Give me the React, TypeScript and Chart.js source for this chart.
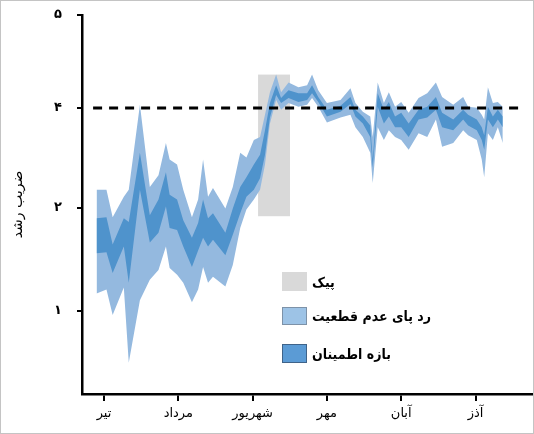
import React, { useEffect, useRef } from "react";
import { Chart, registerables } from "chart.js";

Chart.register(...registerables);

// x positions in days from the start of تیر
const days = [-3, 1, 3.5, 8, 10, 14.5, 18.5, 22, 25, 26.5, 29.5, 32, 35.5, 38, 40, 42, 44, 49, 52, 55, 57.5, 60.5, 63, 65, 67, 69.5, 71.5, 74.5, 78.5, 82, 84, 86.5, 90, 95.5, 99.5, 101.5, 104.5, 107.5, 108.5, 110.5, 113, 115, 117.5, 120, 123, 127, 130.5, 134, 136.5, 141, 145, 147, 150.5, 152.5, 153.5, 155, 157, 159, 161];
// uncertainty footprint (light band)
const outerHigh = [2.24, 2.24, 1.96, 2.17, 2.24, 3.11, 2.27, 2.39, 2.72, 2.55, 2.50, 2.24, 1.96, 2.14, 2.55, 2.17, 2.26, 2.05, 2.27, 2.62, 2.57, 2.75, 2.78, 3.01, 3.24, 3.42, 3.24, 3.34, 3.29, 3.31, 3.42, 3.26, 3.13, 3.16, 3.28, 3.13, 3.04, 2.99, 2.78, 3.34, 3.13, 3.24, 3.09, 3.14, 3.03, 3.18, 3.23, 3.34, 3.19, 3.11, 3.19, 3.09, 3.08, 3.01, 2.96, 3.29, 3.13, 3.14, 3.09];
const outerLow = [1.18, 1.22, 0.96, 1.24, 0.47, 1.11, 1.32, 1.42, 1.66, 1.44, 1.37, 1.29, 1.09, 1.22, 1.45, 1.29, 1.35, 1.25, 1.47, 1.85, 2.04, 2.14, 2.24, 2.50, 2.92, 3.16, 3.06, 3.13, 3.09, 3.11, 3.18, 3.09, 2.93, 2.98, 3.01, 2.88, 2.78, 2.62, 2.31, 2.88, 2.75, 2.85, 2.78, 2.75, 2.65, 2.82, 2.78, 2.96, 2.68, 2.72, 2.85, 2.80, 2.75, 2.55, 2.37, 2.82, 2.75, 2.88, 2.72];
// confidence interval (dark band)
const innerHigh = [1.95, 1.96, 1.68, 1.95, 1.91, 2.62, 1.98, 2.14, 2.42, 2.19, 2.14, 1.93, 1.75, 1.90, 2.14, 1.95, 2.00, 1.80, 2.05, 2.27, 2.37, 2.50, 2.60, 2.85, 3.13, 3.31, 3.18, 3.26, 3.23, 3.23, 3.31, 3.19, 3.06, 3.10, 3.19, 3.06, 2.99, 2.90, 2.55, 3.23, 3.06, 3.14, 2.99, 3.03, 2.92, 3.06, 3.09, 3.19, 3.03, 2.96, 3.06, 3.01, 2.96, 2.88, 2.80, 3.09, 2.99, 3.06, 2.99];
const innerLow = [1.59, 1.60, 1.39, 1.66, 1.29, 2.24, 1.70, 1.80, 2.07, 1.85, 1.83, 1.66, 1.45, 1.62, 1.75, 1.66, 1.73, 1.57, 1.78, 2.00, 2.17, 2.24, 2.36, 2.60, 2.98, 3.21, 3.13, 3.18, 3.14, 3.16, 3.23, 3.14, 2.99, 3.04, 3.12, 2.99, 2.92, 2.78, 2.47, 3.09, 2.92, 2.99, 2.88, 2.88, 2.78, 2.96, 2.98, 3.06, 2.88, 2.85, 2.96, 2.90, 2.85, 2.75, 2.65, 2.96, 2.88, 2.96, 2.88];

const monthTicks = [0, 30, 60, 90, 120, 150];
const monthLabels = ["تیر", "مرداد", "شهریور", "مهر", "آبان", "آذز"];
const yTickValues = [1, 2.055, 3.078, 4.03];
const yTickLabels = ["۱", "۲", "۴", "۵"];
const thresholdValue = 3.078;
const thresholdRange = [-4.4, 169.6];
const peakRange = [62.2, 75.1];
const peakValues = [1.97, 3.42];
const legendLabels = ["پیک", "رد پای عدم قطعیت", "بازه اطمینان"];

const LIGHT = "#94b9df";
const DARK = "#4f93cc";
const GRAY = "#d9d9d9";
const FONT = "'DejaVu Sans', sans-serif";
const FONT_C = "'DejaVu Sans Condensed', 'DejaVu Sans', sans-serif";

const peakPlugin = {
  id: "peakRect",
  beforeDatasetsDraw(chart: any) {
    const { ctx, scales } = chart;
    const x = scales.x;
    const y = scales.y;
    const x0 = x.getPixelForValue(peakRange[0]);
    const x1 = x.getPixelForValue(peakRange[1]);
    const y0 = y.getPixelForValue(peakValues[1]);
    const y1 = y.getPixelForValue(peakValues[0]);
    ctx.save();
    ctx.fillStyle = GRAY;
    ctx.fillRect(x0, y0, x1 - x0, y1 - y0);
    ctx.restore();
  },
};

const pts = (arr: number[]) => days.map((d, i) => ({ x: d, y: arr[i] }));

export default function App() {
  const ref = useRef<HTMLCanvasElement | null>(null);

  useEffect(() => {
    if (!ref.current) return;
    const band = { pointRadius: 0, borderWidth: 0, tension: 0 };
    const chart = new Chart(ref.current, {
      type: "line",
      data: {
        datasets: [
          {
            data: [
              { x: thresholdRange[0], y: thresholdValue },
              { x: thresholdRange[1], y: thresholdValue },
            ],
            borderColor: "#000",
            borderWidth: 3,
            borderDash: [9, 7],
            pointRadius: 0,
            fill: false,
          },
          { ...band, data: pts(innerHigh), fill: "+1", backgroundColor: DARK, borderColor: DARK },
          { ...band, data: pts(innerLow), fill: false, borderColor: DARK },
          { ...band, data: pts(outerHigh), fill: "+1", backgroundColor: LIGHT, borderColor: LIGHT },
          { ...band, data: pts(outerLow), fill: false, borderColor: LIGHT },
        ] as any,
      },
      options: {
        animation: false,
        responsive: false,
        layout: { padding: { left: 0, top: 15, right: 1, bottom: 0 } },
        plugins: { legend: { display: false }, tooltip: { enabled: false } },
        scales: {
          x: {
            type: "linear",
            min: -8.88,
            max: 173.2,
            afterBuildTicks: (s: any) => {
              s.ticks = monthTicks.map((v) => ({ value: v }));
            },
            afterFit: (s: any) => {
              s.height = 40;
              s.paddingLeft = 0;
              s.paddingRight = 0;
            },
            ticks: {
              callback: (_v: any, i: number) => monthLabels[i],
              autoSkip: false,
              maxRotation: 0,
              padding: 5,
              color: "#000",
              font: { family: FONT, size: 13 },
            },
            grid: { drawOnChartArea: false, drawTicks: true, tickLength: 7, color: "#000", lineWidth: 2 },
            border: { display: true, color: "#000", width: 2.5 },
          },
          y: {
            type: "linear",
            min: 0.15,
            max: 4.03,
            afterBuildTicks: (s: any) => {
              s.ticks = yTickValues.map((v) => ({ value: v }));
            },
            afterFit: (s: any) => {
              s.width = 82;
              s.paddingTop = 0;
              s.paddingBottom = 0;
            },
            ticks: {
              callback: (_v: any, i: number) => yTickLabels[i],
              padding: 15,
              color: "#000",
              font: { family: FONT, size: 13, weight: "bold" },
            },
            grid: { drawOnChartArea: false, drawTicks: true, tickLength: 5, color: "#000", lineWidth: 2 },
            border: { display: true, color: "#000", width: 2.5 },
            title: {
              display: true,
              text: "ضریب رشد",
              color: "#000",
              font: { family: FONT, size: 14 },
              padding: { top: 10, bottom: 0 },
            },
          },
        },
      } as any,
      plugins: [peakPlugin],
    });
    return () => chart.destroy();
  }, []);

  const legendRows = [
    { top: 272, h: 19, bg: GRAY, border: "none", label: legendLabels[0] },
    { top: 307, h: 18, bg: "#9dc3e6", border: "1px solid #7d92a8", label: legendLabels[1] },
    { top: 344, h: 19, bg: "#5b9bd5", border: "1px solid #3f6389", label: legendLabels[2] },
  ];

  return (
    <div style={{ position: "fixed", left: 0, top: 0, width: 534, height: 434, background: "#fff", overflow: "hidden" }}>
      <canvas ref={ref} width={534} height={434} style={{ position: "absolute", left: 0, top: 0 }} />
      {legendRows.map((r, i) => (
        <React.Fragment key={i}>
          <div
            style={{
              position: "absolute",
              left: 282,
              top: r.top,
              width: 25,
              height: r.h,
              background: r.bg,
              border: r.border,
              boxSizing: "border-box",
            }}
          />
          <div
            dir="rtl"
            style={{
              position: "absolute",
              left: 312,
              top: r.top + r.h / 2 - 11,
              height: 22,
              lineHeight: "22px",
              fontFamily: FONT_C,
              fontWeight: "bold",
              fontSize: 14,
              color: "#000",
              whiteSpace: "nowrap",
            }}
          >
            {r.label}
          </div>
        </React.Fragment>
      ))}
      <div
        style={{
          position: "absolute",
          left: 0,
          top: 0,
          width: 534,
          height: 434,
          border: "1px solid #c4c4c4",
          boxSizing: "border-box",
          pointerEvents: "none",
        }}
      />
    </div>
  );
}
